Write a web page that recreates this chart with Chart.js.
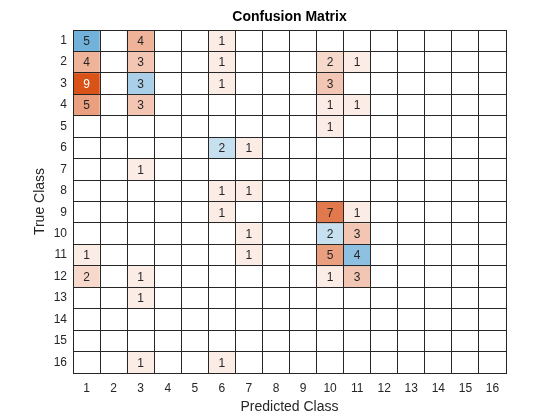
<!DOCTYPE html>
<html>
<head>
<meta charset="utf-8">
<title>Confusion Matrix</title>
<script src="https://cdn.jsdelivr.net/npm/chart.js@4"></script>
<style>
  html, body { margin: 0; padding: 0; background: #fff; }
  #wrap { width: 560px; height: 420px; }
</style>
</head>
<body>
<div id="wrap"><canvas id="chart-confusion"></canvas></div>
<script>
// ── Data ──────────────────────────────────────────────────────────────────
const classes = ['1', '2', '3', '4', '5', '6', '7', '8', '9', '10', '11', '12', '13', '14', '15', '16'];

// rows = true class, columns = predicted class
const counts = [
  [5, 0, 4, 0, 0, 1, 0, 0, 0, 0, 0, 0, 0, 0, 0, 0],
  [4, 0, 3, 0, 0, 1, 0, 0, 0, 2, 1, 0, 0, 0, 0, 0],
  [9, 0, 3, 0, 0, 1, 0, 0, 0, 3, 0, 0, 0, 0, 0, 0],
  [5, 0, 3, 0, 0, 0, 0, 0, 0, 1, 1, 0, 0, 0, 0, 0],
  [0, 0, 0, 0, 0, 0, 0, 0, 0, 1, 0, 0, 0, 0, 0, 0],
  [0, 0, 0, 0, 0, 2, 1, 0, 0, 0, 0, 0, 0, 0, 0, 0],
  [0, 0, 1, 0, 0, 0, 0, 0, 0, 0, 0, 0, 0, 0, 0, 0],
  [0, 0, 0, 0, 0, 1, 1, 0, 0, 0, 0, 0, 0, 0, 0, 0],
  [0, 0, 0, 0, 0, 1, 0, 0, 0, 7, 1, 0, 0, 0, 0, 0],
  [0, 0, 0, 0, 0, 0, 1, 0, 0, 2, 3, 0, 0, 0, 0, 0],
  [1, 0, 0, 0, 0, 0, 1, 0, 0, 5, 4, 0, 0, 0, 0, 0],
  [2, 0, 1, 0, 0, 0, 0, 0, 0, 1, 3, 0, 0, 0, 0, 0],
  [0, 0, 1, 0, 0, 0, 0, 0, 0, 0, 0, 0, 0, 0, 0, 0],
  [0, 0, 0, 0, 0, 0, 0, 0, 0, 0, 0, 0, 0, 0, 0, 0],
  [0, 0, 0, 0, 0, 0, 0, 0, 0, 0, 0, 0, 0, 0, 0, 0],
  [0, 0, 1, 0, 0, 1, 0, 0, 0, 0, 0, 0, 0, 0, 0, 0],
];

// ── Styling ───────────────────────────────────────────────────────────────
const FONT = "'Liberation Sans', Arial, Helvetica, sans-serif";
const AXIS_COLOR = '#262626';
const DIAG_RGB = [0, 114, 189];
const OFF_RGB = [217, 83, 25];
const maxCount = Math.max(...counts.flat());

function cellColor(value, isDiag) {
  if (!value) return '#ffffff';
  const t = value / maxCount;
  const base = isDiag ? DIAG_RGB : OFF_RGB;
  const c = base.map(v => Math.round(255 - t * (255 - v)));
  return `rgb(${c[0]},${c[1]},${c[2]})`;
}

// one floating-bar dataset per true class; each bar spans one row
const datasets = counts.map((row, r) => ({
  label: classes[r],
  data: row.map(() => [r + 0.5, r + 1.5]),
  counts: row,
  backgroundColor: row.map((v, c) => cellColor(v, r === c)),
  borderWidth: 0,
  barPercentage: 1,
  categoryPercentage: 1,
}));

// ── Plugins ───────────────────────────────────────────────────────────────
const cellText = {
  id: 'cellText',
  afterDatasetsDraw(chart) {
    const ctx = chart.ctx;
    ctx.save();
    ctx.font = `12px ${FONT}`;
    ctx.textAlign = 'center';
    ctx.textBaseline = 'middle';
    chart.data.datasets.forEach((ds, i) => {
      const meta = chart.getDatasetMeta(i);
      meta.data.forEach((bar, j) => {
        const v = ds.counts[j];
        if (!v) return;
        ctx.fillStyle = v / maxCount > 0.85 ? '#ffffff' : AXIS_COLOR;
        ctx.fillText(String(v), bar.x, (bar.y + bar.base) / 2 + 1);
      });
    });
    ctx.restore();
  },
};

const chartTitle = {
  id: 'chartTitle',
  afterDraw(chart) {
    const { ctx, chartArea } = chart;
    ctx.save();
    ctx.font = `bold 14px ${FONT}`;
    ctx.fillStyle = '#000000';
    ctx.textAlign = 'center';
    ctx.textBaseline = 'middle';
    ctx.fillText('Confusion Matrix', (chartArea.left + chartArea.right) / 2, chartArea.top - 13);
    ctx.restore();
  },
};

// ── Chart ─────────────────────────────────────────────────────────────────
new Chart(document.getElementById('chart-confusion'), {
  type: 'bar',
  data: { labels: classes, datasets },
  options: {
    responsive: true,
    maintainAspectRatio: false,
    animation: false,
    layout: { padding: { top: 30, right: 54, left: 0, bottom: 0 } },
    plugins: {
      legend: { display: false },
      tooltip: { enabled: false },
    },
    scales: {
      x: {
        type: 'category',
        stacked: true,
        afterFit: s => { s.height = 47; },
        grid: { offset: true, color: AXIS_COLOR, drawTicks: false, z: 1 },
        border: { color: AXIS_COLOR, z: 1 },
        ticks: { color: AXIS_COLOR, padding: 8, font: { family: FONT, size: 12 } },
        title: {
          display: true, text: 'Predicted Class', color: AXIS_COLOR,
          font: { family: FONT, size: 14 }, padding: { top: 0, bottom: 4 },
        },
      },
      y: {
        type: 'linear',
        reverse: true,
        min: 0.5,
        max: 16.5,
        afterFit: s => { s.width = 73; },
        afterBuildTicks: s => { s.ticks = classes.map((c, i) => ({ value: i + 1 })); },
        grid: { offset: true, color: AXIS_COLOR, drawTicks: false, z: 1 },
        border: { color: AXIS_COLOR, z: 1 },
        ticks: {
          color: AXIS_COLOR, padding: 6, font: { family: FONT, size: 12 },
          callback: (v, i) => classes[i],
        },
        title: {
          display: true, text: 'True Class', color: AXIS_COLOR,
          font: { family: FONT, size: 14 }, padding: { top: 32, bottom: 0 },
        },
      },
    },
  },
  plugins: [cellText, chartTitle],
});
</script>
</body>
</html>
